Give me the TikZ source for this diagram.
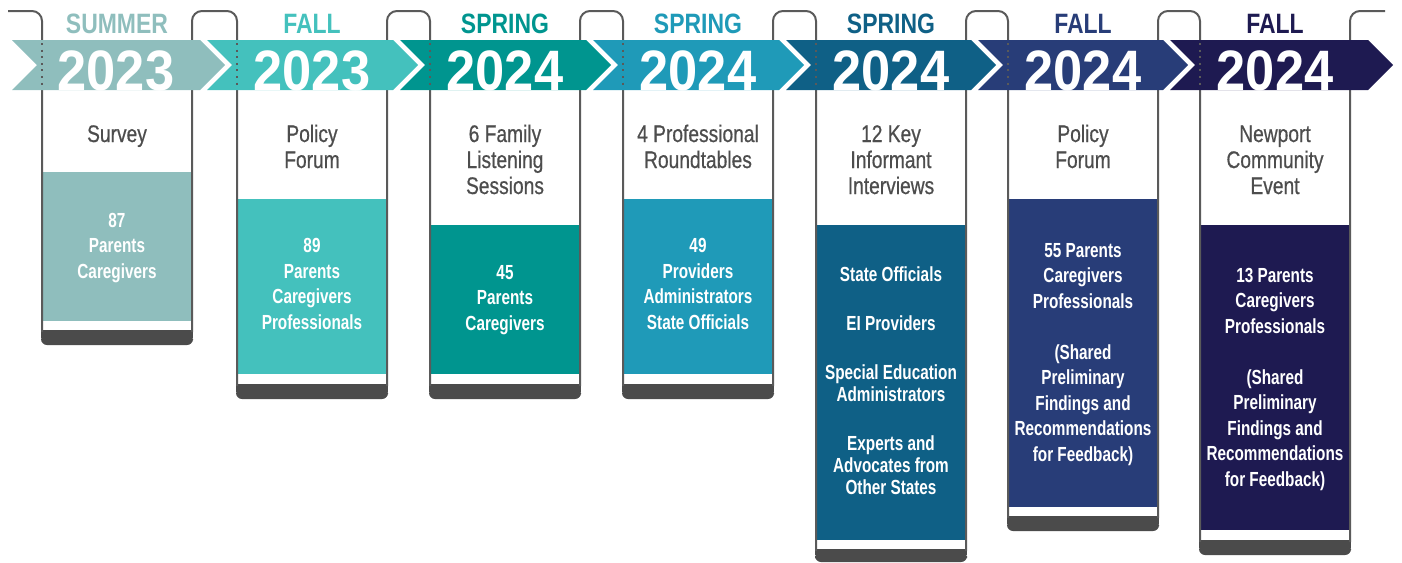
\documentclass[tikz,border=0pt]{standalone}
\usepackage{fontspec}
\setmainfont{Liberation Sans}
\newfontfamily\condfont[FakeStretch=0.75]{Liberation Sans}
\newfontfamily\headfont[FakeStretch=0.8, FakeBold=0.6]{Liberation Sans}
\newfontfamily\seasonfont[FakeStretch=0.82]{Liberation Sans}
\newfontfamily\yearfont[FakeStretch=0.92]{Liberation Sans}

\definecolor{sum23}{HTML}{8FBEBD}
\definecolor{fall23}{HTML}{44C1BD}
\definecolor{spr24a}{HTML}{00958F}
\definecolor{spr24b}{HTML}{1F9AB8}
\definecolor{spr24c}{HTML}{0F6086}
\definecolor{fall24a}{HTML}{283D78}
\definecolor{fall24b}{HTML}{1E1A51}
\definecolor{wiregray}{HTML}{5A5A5A}
\definecolor{footgray}{HTML}{4B4B4B}
\definecolor{headgray}{HTML}{4D4D4D}

\tikzset{
  wire/.style={draw=wiregray, line width=1pt, rounded corners=5pt},
  foot/.style={fill=footgray},
  punch/.style={draw=wiregray, line width=1pt, dash pattern=on 1pt off 2.3pt},
  seasonlabel/.style={font=\seasonfont\bfseries\fontsize{14}{14}\selectfont, anchor=base, inner sep=0pt},
  yearlabel/.style={font=\yearfont\bfseries\fontsize{28.5}{28.5}\selectfont, text=white, anchor=base, inner sep=0pt},
  % multi-line nodes: base is the last line
  head/.style={font=\headfont\fontsize{12}{13}\selectfont, text=headgray, align=center, anchor=base, inner sep=0pt},
  info/.style={font=\condfont\bfseries\fontsize{10.2}{12.75}\selectfont, text=white, align=center, anchor=base, inner sep=0pt}
}

\begin{document}
\begin{tikzpicture}[x=0.5pt, y=-0.5pt]
  \useasboundingbox (0,0) rectangle (1402,562);

  % coloured blocks
  \fill[sum23]   (43,172)   rectangle (191,321);
  \fill[fall23]  (238,199)  rectangle (386,374);
  \fill[spr24a]  (431,225)  rectangle (579,374);
  \fill[spr24b]  (624,199)  rectangle (772,374);
  \fill[spr24c]  (817,225)  rectangle (965,540);
  \fill[fall24a] (1009,199) rectangle (1157,507);
  \fill[fall24b] (1201,225) rectangle (1349,530);

  % dark feet, rounded underneath only
  \fill[foot] (41,330) rectangle (193,338);
  \fill[foot, rounded corners=3pt] (41,334) rectangle (193,345);
  \fill[foot] (236,384) rectangle (388,392);
  \fill[foot, rounded corners=3pt] (236,388) rectangle (388,399);
  \fill[foot] (429,384) rectangle (581,392);
  \fill[foot, rounded corners=3pt] (429,388) rectangle (581,399);
  \fill[foot] (622,384) rectangle (774,392);
  \fill[foot, rounded corners=3pt] (622,388) rectangle (774,399);
  \fill[foot] (815,549) rectangle (967,555);
  \fill[foot, rounded corners=3pt] (815,552) rectangle (967,562);
  \fill[foot] (1007,516) rectangle (1159,524);
  \fill[foot, rounded corners=3pt] (1007,520) rectangle (1159,531);
  \fill[foot] (1199,540) rectangle (1351,548);
  \fill[foot, rounded corners=3pt] (1199,544) rectangle (1351,555);

  % the clip wire
  \draw[wire] (8,11) -- (42,11) -- (42,332);
  \draw[wire] (192,332) -- (192,11) -- (237,11) -- (237,386);
  \draw[wire] (387,386) -- (387,11) -- (430,11) -- (430,386);
  \draw[wire] (580,386) -- (580,11) -- (623,11) -- (623,386);
  \draw[wire] (773,386) -- (773,11) -- (816,11) -- (816,551);
  \draw[wire] (966,551) -- (966,11) -- (1008,11) -- (1008,518);
  \draw[wire] (1158,518) -- (1158,11) -- (1200,11) -- (1200,542);
  \draw[wire] (1350,542) -- (1350,11) -- (1385,11);

  % banner
  \fill[sum23]   (12,40) -- (200,40) -- (225,65) -- (200,90) -- (12,90) -- (37,65) -- cycle;
  \fill[fall23]  (207,40) -- (393,40) -- (418,65) -- (393,90) -- (207,90) -- (232,65) -- cycle;
  \fill[spr24a]  (400,40) -- (586,40) -- (611,65) -- (586,90) -- (400,90) -- (425,65) -- cycle;
  \fill[spr24b]  (593,40) -- (779,40) -- (804,65) -- (779,90) -- (593,90) -- (618,65) -- cycle;
  \fill[spr24c]  (786,40) -- (971,40) -- (996,65) -- (971,90) -- (786,90) -- (811,65) -- cycle;
  \fill[fall24a] (978,40) -- (1163,40) -- (1188,65) -- (1163,90) -- (978,90) -- (1003,65) -- cycle;
  \fill[fall24b] (1170,40) -- (1368,40) -- (1393,65) -- (1368,90) -- (1170,90) -- (1195,65) -- cycle;

  % wire passing over the banner
  \draw[punch] (42,43) -- (42,89);
  \draw[punch] (237,43) -- (237,89);
  \draw[punch] (430,43) -- (430,89);
  \draw[punch] (623,43) -- (623,89);
  \draw[punch] (816,43) -- (816,89);
  \draw[punch] (1008,43) -- (1008,89);
  \draw[punch] (1200,43) -- (1200,89);

  % seasons and years
  \node[seasonlabel, text=sum23]   (season1) at (117,33)  {SUMMER};
  \node[seasonlabel, text=fall23]  (season2) at (312,33)  {FALL};
  \node[seasonlabel, text=spr24a]  (season3) at (505,33)  {SPRING};
  \node[seasonlabel, text=spr24b]  (season4) at (698,33)  {SPRING};
  \node[seasonlabel, text=spr24c]  (season5) at (891,33)  {SPRING};
  \node[seasonlabel, text=fall24a] (season6) at (1083,33) {FALL};
  \node[seasonlabel, text=fall24b] (season7) at (1275,33) {FALL};

  \node[yearlabel] (year1) at (116,90)  {2023};
  \node[yearlabel] (year2) at (312,90)  {2023};
  \node[yearlabel] (year3) at (505,90)  {2024};
  \node[yearlabel] (year4) at (698,90)  {2024};
  \node[yearlabel] (year5) at (891,90)  {2024};
  \node[yearlabel] (year6) at (1083,90) {2024};
  \node[yearlabel] (year7) at (1275,90) {2024};

  % activities
  \node[head] (head1) at (117,142)  {Survey};
  \node[head] (head2) at (312,168)  {Policy\\Forum};
  \node[head] (head3) at (505,194)  {6 Family\\Listening\\Sessions};
  \node[head] (head4) at (698,168)  {4 Professional\\Roundtables};
  \node[head] (head5) at (891,194)  {12 Key\\Informant\\Interviews};
  \node[head] (head6) at (1083,168) {Policy\\Forum};
  \node[head] (head7) at (1275,194) {Newport\\Community\\Event};

  % who took part
  \node[info] (info1) at (117,278) {87\\Parents\\Caregivers};
  \node[info] (info2) at (312,329) {89\\Parents\\Caregivers\\Professionals};
  \node[info] (info3) at (505,330) {45\\Parents\\Caregivers};
  \node[info] (info4) at (698,329) {49\\Providers\\Administrators\\State Officials};
  \node[info, font=\condfont\bfseries\fontsize{10.2}{11}\selectfont] (info5) at (891,494)
    {State Officials\\[13.5pt]EI Providers\\[13.5pt]Special Education\\Administrators\\[13.5pt]Experts and\\Advocates from\\Other States};
  \node[info] (info6) at (1083,461)
    {55 Parents\\Caregivers\\Professionals\\[12.75pt](Shared\\Preliminary\\Findings and\\Recommendations\\for Feedback)};
  \node[info] (info7) at (1275,486)
    {13 Parents\\Caregivers\\Professionals\\[12.75pt](Shared\\Preliminary\\Findings and\\Recommendations\\for Feedback)};
\end{tikzpicture}
\end{document}
